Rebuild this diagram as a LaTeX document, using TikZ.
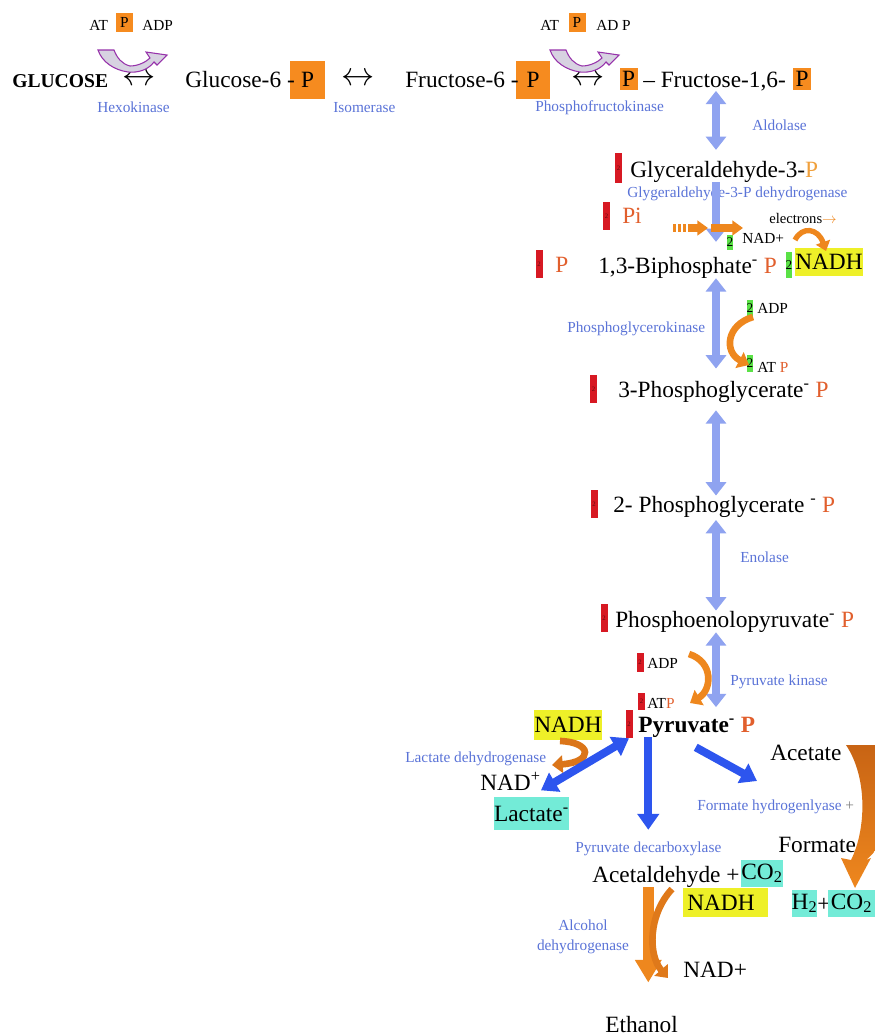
\documentclass[tikz,border=0pt]{standalone}
\usepackage{fontspec}
\setmainfont{Liberation Serif}
\usetikzlibrary{arrows.meta,calc}

\definecolor{boxorange}{RGB}{246,139,31}
\definecolor{twored}{RGB}{215,25,35}
\definecolor{twogreen}{RGB}{90,225,70}
\definecolor{nadhyellow}{RGB}{238,240,40}
\definecolor{gascyan}{RGB}{115,235,215}
\definecolor{enzblue}{RGB}{90,115,215}
\definecolor{stepblue}{RGB}{143,163,240}
\definecolor{pathblue}{RGB}{45,85,238}
\definecolor{orarrow}{RGB}{238,135,30}
\definecolor{brarrow}{RGB}{200,100,20}
\definecolor{pred}{RGB}{225,95,45}
\definecolor{plight}{RGB}{240,160,60}
\definecolor{kpurple}{RGB}{150,50,170}
\definecolor{kfill}{RGB}{215,210,225}

\tikzset{
    lbl/.style={inner sep=0pt, anchor=base west, font=\fontsize{17.5}{20}\selectfont},
    enz/.style={inner sep=0pt, anchor=base west, text=enzblue, font=\fontsize{11.5}{15}\selectfont},
    sml/.style={inner sep=0pt, anchor=base west, font=\fontsize{11.5}{14}\selectfont},
    pbox/.style={fill=boxorange, inner sep=0pt, minimum width=26pt, minimum height=28.5pt, font=\fontsize{17.5}{20}\selectfont},
    pboxs/.style={pbox, minimum width=13.5pt, minimum height=16.5pt},
    pboxt/.style={pbox, minimum width=12.75pt, minimum height=14.25pt, font=\fontsize{11.5}{14}\selectfont},
    redtwo/.style={fill=twored, inner sep=0pt, minimum width=5.25pt, minimum height=21pt, text=black!55!twored, font=\fontsize{5}{5}\selectfont},
    greentwo/.style={fill=twogreen, inner sep=0pt, minimum width=5pt, minimum height=13pt, font=\fontsize{10}{10}\selectfont},
    nadhbox/.style={fill=nadhyellow, inner sep=0pt, minimum height=21pt, font=\fontsize{17.5}{20}\selectfont},
    gasbox/.style={fill=gascyan, inner sep=0pt, minimum height=20pt, font=\fontsize{17.5}{20}\selectfont},
    dblarrow/.style={inner sep=0pt, anchor=center, font=\fontsize{23}{23}\selectfont},
    stepar/.style={draw=stepblue, line width=5.5pt, {Triangle[width=15pt,length=10pt]}-{Triangle[width=15pt,length=10pt]}},
    pathar/.style={draw=pathblue, line width=6pt, -{Triangle[width=16pt,length=12pt]}},
    curvar/.style={draw=orarrow, line width=5pt, -{Triangle[width=13pt,length=8pt]}}
}

\begin{document}
\begin{tikzpicture}[x=0.75pt, y=-0.75pt]
    \useasboundingbox (0,0) rectangle (875,1036);

    % top row
    \node[lbl, font=\bfseries\fontsize{14.7}{17}\selectfont] (glc) at (12,87) {GLUCOSE};
    \node[dblarrow] (hkarr) at (139,79) {$\leftrightarrow$};
    \node[enz] (hexo) at (97,112) {Hexokinase};
    \node[sml] (at1) at (89,30) {AT};
    \node[pboxt] (p1) at (124.5,22.5) {P};
    \node[sml] (adp1) at (142,30) {ADP};

    \node[pbox] (g6pp) at (307.5,80) {P};
    \node[lbl] (g6p) at (185,87) {Glucose-6 -};
    \node[dblarrow] (isoarr) at (358,79) {$\leftrightarrow$};
    \node[enz] (iso) at (333,112) {Isomerase};

    \node[pbox] (f6pp) at (533,80) {P};
    \node[lbl] (f6p) at (405,87) {Fructose-6 -};
    \node[sml] (at2) at (540,30) {AT};
    \node[pboxt] (p2) at (577,22.5) {P};
    \node[sml] (adp2) at (596,30) {AD P};
    \node[dblarrow] (pfkarr) at (588,79) {$\leftrightarrow$};
    \node[enz] (pfk) at (535,111) {Phosphofructokinase};

    \node[pboxs] (f16pa) at (628.5,79) {P};
    \node[lbl] (f16) at (643,87) {– Fructose-1,6-};
    \node[pboxs] (f16pb) at (802,79) {P};
    \node[enz] (ald) at (752,130) {Aldolase};

    % kinase arrows
    \foreach \s in {0,452}{
        \begin{scope}[shift={(\s,0)}]
            \filldraw[fill=kfill, draw=kpurple, line width=0.8pt] (98,50) -- (114,50) .. controls (117,58) and (122,64) .. (130,66) .. controls (138,66) and (146,62) .. (150,58) -- (146,52) -- (167,55) -- (157,65) -- (154,62) .. controls (148,70) and (138,73) .. (128,72) .. controls (114,70) and (102,62) .. (98,50) -- cycle;
        \end{scope}
    }

    % glyceraldehyde-3-P
    \node[redtwo, minimum height=22.5pt] (g3p2) at (618.5,168) {2};
    \node[lbl] (g3p) at (630,177) {Glyceraldehyde-3-\textcolor{plight}{P}};
    \node[enz] (gapdh) at (627,197) {Glygeraldehyde-3-P dehydrogenase};
    \node[redtwo] (pi2) at (606.5,216) {2};
    \node[lbl, text=pred] (pi) at (622,223) {Pi};
    \node[sml, font=\fontsize{11}{13}\selectfont] (elec) at (769,223) {electrons\textcolor{orarrow}{$\rightarrow$}};
    \node[greentwo, minimum height=11pt] (nad2) at (730,242.5) {2};
    \node[sml] (nad) at (742,243) {NAD+};

    % 1,3-biphosphate
    \node[redtwo] (bp2) at (539,264) {2};
    \node[lbl, text=pred] (bpp) at (555,272) {P};
    \node[lbl] (bpg) at (598,273) {1,3-Biphosphate\textsuperscript{-} \textcolor{pred}{P}};
    \node[greentwo, minimum height=19.5pt] (nadh2) at (789,265) {2};
    \node[nadhbox, minimum width=51pt] (nadh1) at (829,262) {NADH};

    \node[greentwo] (adp3two) at (750,308.5) {2};
    \node[sml] (adp3) at (757,313) {ADP};
    \node[enz] (pgk) at (567,332) {Phosphoglycerokinase};
    \node[greentwo] (atp3two) at (750,363.5) {2};
    \node[sml] (atp3) at (757,372) {AT \textcolor{pred}{P}};

    % 3- and 2-phosphoglycerate
    \node[redtwo] (pg3two) at (593.5,389) {2};
    \node[lbl] (pg3) at (618,397) {3-Phosphoglycerate\textsuperscript{-} \textcolor{pred}{P}};
    \node[redtwo] (pg2two) at (594,504) {2};
    \node[lbl] (pg2) at (613,512) {2- Phosphoglycerate \textsuperscript{-} \textcolor{pred}{P}};
    \node[enz] (eno) at (740,562) {Enolase};

    % phosphoenolpyruvate
    \node[redtwo] (pep2) at (604,618) {2};
    \node[lbl] (pep) at (615,627) {Phosphoenolopyruvate\textsuperscript{-} \textcolor{pred}{P}};
    \node[redtwo, minimum height=14.5pt] (adp4two) at (640,662.5) {2};
    \node[sml] (adp4) at (647,668) {ADP};
    \node[redtwo, minimum height=13pt] (atp4two) at (641.5,701.5) {2};
    \node[sml] (atp4) at (647,708) {AT\textcolor{pred}{P}};
    \node[enz] (pk) at (730,685) {Pyruvate kinase};

    % pyruvate
    \node[redtwo] (pyr2) at (629,724) {2};
    \node[lbl, font=\bfseries\fontsize{17.5}{20}\selectfont] (pyr) at (638,732) {Pyruvate\textsuperscript{-} \textcolor{pred}{P}};
    \node[nadhbox, minimum width=51pt, minimum height=22.5pt] (nadh2box) at (568,725) {NADH};
    \node[enz] (ldh) at (405,762) {Lactate dehydrogenase};
    \node[lbl] (nadp) at (480,790) {NAD\textsuperscript{+}};
    \node[gasbox, minimum width=55pt, minimum height=24.75pt] (lac) at (531.5,813.5) {Lactate\textsuperscript{-}};

    \node[lbl] (acetate) at (770,760) {Acetate};
    \node[enz] (fhl) at (697,810) {Formate hydrogenlyase \textcolor{gray}{+}};
    \node[lbl] (formate) at (778,852) {Formate};
    \node[enz] (pdc) at (575,852) {Pyruvate decarboxylase};

    \node[lbl] (acet) at (592,882) {Acetaldehyde +};
    \node[gasbox, minimum width=30pt] (co2a) at (762,873.5) {CO\textsubscript{2}};
    \node[nadhbox, anchor=west, minimum height=22pt] (nadh3) at (683,902.5) {\hspace*{3pt}NADH\hspace*{10pt}};
    \node[gasbox, minimum width=18.75pt] (h2) at (804.5,903.5) {H\textsubscript{2}};
    \node[lbl] (plus) at (817,911) {+};
    \node[gasbox, minimum width=35pt] (co2b) at (851.5,903.5) {CO\textsubscript{2}};

    \node[enz, anchor=center, align=center] (adh) at (583,937) {Alcohol\\dehydrogenase};
    \node[lbl] (nad3) at (683,977) {NAD+};
    \node[lbl] (eth) at (605,1032) {Ethanol};

    % main steps
    \coordinate (ax) at (716,0);
    \draw[stepar, shorten >=8pt] (ax |- f16.south) -- (ax |- g3p.north);
    \draw[stepar, -{Triangle[width=15pt,length=10pt]}, shorten >=11pt] (ax |- g3p.south) -- (ax |- bpg.north);
    \draw[stepar, shorten >=9pt] (ax |- bpg.south) -- (ax |- pg3.north);
    \draw[stepar, shorten <=6pt] (ax |- pg3.south) -- (ax |- pg2.north);
    \draw[stepar, shorten <=2pt] (ax |- pg2.south) -- (ax |- pep.north);
    \draw[stepar, shorten >=7pt] (ax |- pep.south) -- (ax |- pyr.north);

    % phosphate and electron arrows
    \coordinate (pia) at (673,228);
    \coordinate (pib) at (688,228);
    \coordinate (pic) at (708,228);
    \coordinate (pid) at (711,228);
    \coordinate (pie) at (743,228);
    \draw[draw=orarrow, line width=6pt, dash pattern=on 2.5pt off 1.2pt] (pia) -- (pib);
    \draw[draw=orarrow, line width=6pt, -{Triangle[width=11pt,length=8pt]}] (pib) -- (pic);
    \draw[draw=orarrow, line width=6pt, -{Triangle[width=11pt,length=8pt]}] (pid) -- (pie);

    \coordinate (ea) at (795,240);
    \coordinate (eb) at (826,251);
    \draw[curvar, line width=4pt, -{Triangle[width=11pt,length=7pt]}] (ea) .. controls (802,226) and (818,228) .. (eb);

    \coordinate (pgka) at (753,317);
    \coordinate (pgkb) at (749,365);
    \draw[curvar] (pgka) .. controls (726,325) and (724,352) .. (pgkb);

    \coordinate (pka) at (689,654);
    \coordinate (pkb) at (690,703);
    \draw[curvar] (pka) .. controls (714,662) and (712,690) .. (pkb);

    \coordinate (ldha) at (560,741);
    \coordinate (ldhb) at (552,765);
    \draw[curvar, draw=brarrow!50!orarrow] (ldha) .. controls (592,742) and (594,762) .. (ldhb);

    % branches from pyruvate
    \draw[pathar, {Triangle[width=16pt,length=12pt]}-{Triangle[width=16pt,length=12pt]}] (nadp.south east) -- (pyr2.south);
    \draw[pathar, shorten >=8.5pt] (pdc.north |- pyr.south) -- (pdc.north);
    \coordinate (fhlend) at (757,781);
    \draw[pathar] ($(pyr.south)+(-1,10)$) -- (fhlend);

    % acetate to hydrogen
    \shade[top color=brarrow, bottom color=orarrow] (846,745) -- (882,745) .. controls (902,775) and (897,835) .. (866,860) -- (871,858) -- (855,888) -- (841,858) -- (851,860) .. controls (866,830) and (868,778) .. (846,745) -- cycle;

    % alcohol dehydrogenase
    \draw[draw=orarrow, line width=8pt, -{Triangle[width=19pt,length=17pt]}, shorten >=24.75pt] (pdc.north |- acet.south) -- (pdc.north |- eth.north);
    \coordinate (adha) at (672,889);
    \coordinate (adhb) at (668,978);
    \draw[curvar, draw=brarrow!40!orarrow] (adha) .. controls (648,915) and (648,955) .. (adhb);
\end{tikzpicture}
\end{document}
